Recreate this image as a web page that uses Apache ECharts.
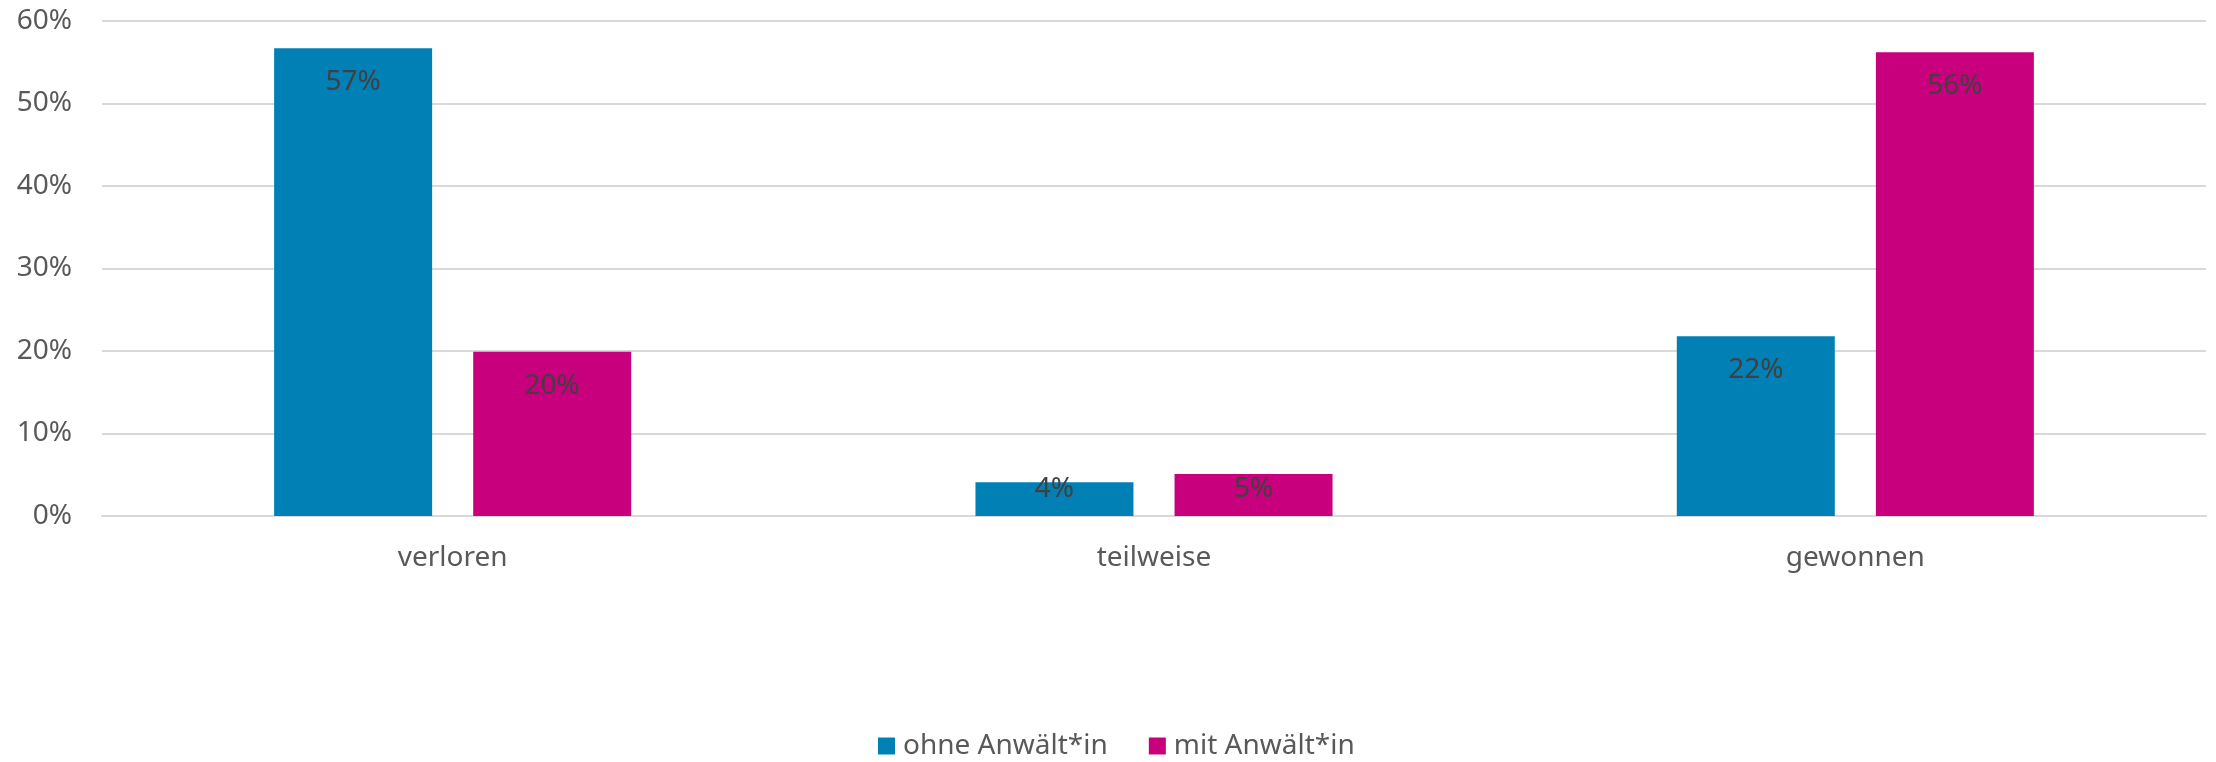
<!DOCTYPE html>
<html>
<head>
<meta charset="utf-8">
<script src="https://cdn.jsdelivr.net/npm/echarts@6/dist/echarts.min.js"></script>
<style>
html,body{margin:0;padding:0;background:#fff;}
#chart{width:2216px;height:762px;}
</style>
</head>
<body>
<div id="chart"></div>
<script>
const categories = ['verloren', 'teilweise', 'gewonnen'];
const seriesNames = ['ohne Anwält*in', 'mit Anwält*in'];
const ohneAnwalt = [56.7, 4.1, 21.8];
const mitAnwalt = [19.9, 5.1, 56.2];
const yTicks = { min: 0, max: 60, interval: 10 };

const FONT = 'Noto Sans';
const FS = 28;
const colors = ['#0080b5', '#c8007e'];

function buildData(values) {
  return values.map(v => {
    const item = { value: v };
    if (v < 8) {
      item.label = { position: 'insideBottom', distance: 13 };
    }
    return item;
  });
}

const labelCfg = {
  show: true, position: 'insideTop', distance: 20,
  fontFamily: FONT, fontSize: FS, color: '#404040',
  formatter: p => Math.round(p.value) + '%'
};

const chart = echarts.init(document.getElementById('chart'), null, { renderer: 'canvas' });
chart.setOption({
  animation: false,
  backgroundColor: '#ffffff',
  color: colors,
  grid: { left: 102, right: 10, top: 21, bottom: 246, containLabel: false },
  legend: {
    data: seriesNames,
    left: 873,
    top: 727,
    itemWidth: 17,
    itemHeight: 17,
    itemGap: 41,
    icon: 'rect',
    textStyle: { fontFamily: FONT, fontSize: FS, color: '#595959', padding: [0, 0, 0, 3] }
  },
  xAxis: {
    type: 'category',
    data: categories,
    axisLine: { show: true, lineStyle: { color: '#d9d9d9', width: 2 } },
    axisTick: { show: false },
    axisLabel: { fontFamily: FONT, fontSize: FS, color: '#595959', margin: 28 }
  },
  yAxis: {
    type: 'value',
    min: yTicks.min,
    max: yTicks.max,
    interval: yTicks.interval,
    axisLine: { show: false },
    axisTick: { show: false },
    splitLine: { lineStyle: { color: '#d9d9d9', width: 2 } },
    axisLabel: { fontFamily: FONT, fontSize: FS, color: '#595959', margin: 30, formatter: '{value}%' }
  },
  series: [
    {
      name: seriesNames[0],
      type: 'bar',
      barWidth: 158,
      barGap: '26%',
      data: buildData(ohneAnwalt),
      label: labelCfg
    },
    {
      name: seriesNames[1],
      type: 'bar',
      barWidth: 158,
      barGap: '26%',
      data: buildData(mitAnwalt),
      label: labelCfg
    }
  ]
});
</script>
</body>
</html>
